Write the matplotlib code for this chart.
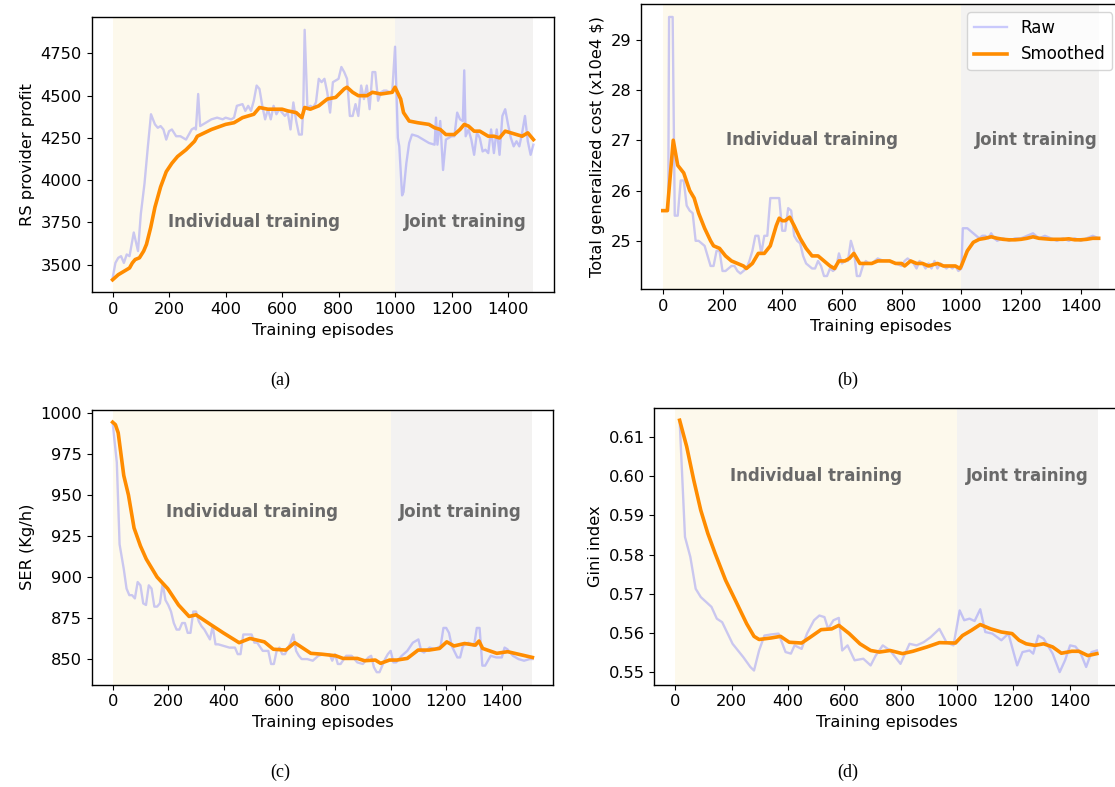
import matplotlib
matplotlib.use('Agg')
from matplotlib import pyplot as plt

# (a) RS provider profit
a_raw_x = [0, 10, 20, 30, 40, 50, 60, 75, 90, 100, 113, 125, 136, 150, 160, 170, 180, 190, 200, 210,
           225, 240, 250, 260, 270, 280, 290, 295, 303, 310, 330, 350, 370, 390, 400, 420, 430, 440,
           460, 470, 480, 490, 500, 510, 520, 530, 540, 550, 560, 570, 580, 590, 600, 610, 620, 630,
           640, 650, 660, 670, 675, 680, 690, 700, 710, 720, 730, 740, 750, 760, 770, 780, 790, 800,
           810, 820, 830, 840, 850, 860, 870, 880, 890, 900, 910, 920, 930, 940, 950, 960, 970, 980,
           990, 1000, 1010, 1015, 1025, 1030, 1040, 1050, 1060, 1080, 1100, 1120, 1140, 1145, 1150,
           1160, 1170, 1180, 1200, 1210, 1220, 1230, 1240, 1245, 1250, 1260, 1270, 1280, 1290, 1300,
           1310, 1320, 1330, 1340, 1350, 1360, 1370, 1380, 1390, 1400, 1410, 1420, 1430, 1440, 1450,
           1460, 1470, 1480, 1490]
a_raw_y = [3420, 3510, 3540, 3550, 3510, 3560, 3550, 3690, 3580, 3800, 3980, 4200, 4390, 4330, 4310,
           4320, 4300, 4240, 4290, 4300, 4260, 4260, 4250, 4240, 4270, 4300, 4310, 4300, 4510, 4320,
           4340, 4360, 4370, 4360, 4370, 4360, 4370, 4440, 4450, 4410, 4440, 4410, 4470, 4560, 4540,
           4440, 4360, 4420, 4360, 4440, 4390, 4420, 4400, 4380, 4400, 4300, 4460, 4350, 4270, 4270,
           4420, 4890, 4420, 4440, 4430, 4460, 4600, 4580, 4600, 4520, 4400, 4580, 4590, 4600, 4670,
           4640, 4600, 4380, 4380, 4450, 4380, 4560, 4480, 4560, 4420, 4640, 4640, 4470, 4520, 4530,
           4530, 4520, 4520, 4790, 4250, 4200, 3910, 3930, 4100, 4220, 4270, 4260, 4240, 4220, 4210,
           4370, 4210, 4350, 4060, 4240, 4260, 4260, 4400, 4360, 4350, 4650, 4260, 4300, 4240, 4150,
           4280, 4250, 4170, 4180, 4160, 4300, 4160, 4300, 4150, 4380, 4420, 4330, 4250, 4200, 4230,
           4200, 4280, 4380, 4230, 4150, 4210]
a_sm_x = [0, 20, 40, 60, 70, 80, 95, 110, 120, 135, 150, 170, 190, 210, 230, 260, 290, 300, 350, 400,
          430, 460, 500, 520, 550, 600, 620, 650, 670, 680, 700, 730, 760, 790, 820, 830, 850, 870,
          900, 920, 950, 990, 1000, 1020, 1030, 1050, 1080, 1120, 1140, 1160, 1180, 1210, 1230, 1245,
          1260, 1280, 1300, 1330, 1350, 1370, 1390, 1410, 1430, 1450, 1470, 1490]
a_sm_y = [3410, 3440, 3460, 3480, 3510, 3530, 3540, 3580, 3620, 3720, 3840, 3960, 4050, 4100, 4140,
          4180, 4230, 4260, 4300, 4330, 4340, 4370, 4390, 4430, 4420, 4420, 4410, 4400, 4370, 4430,
          4420, 4440, 4480, 4490, 4540, 4550, 4520, 4500, 4500, 4520, 4510, 4520, 4550, 4480, 4400,
          4350, 4340, 4330, 4310, 4300, 4270, 4270, 4300, 4330, 4320, 4290, 4290, 4260, 4260, 4250,
          4290, 4280, 4270, 4260, 4280, 4240]

# (b) Total generalized cost
b_raw_x = [0, 10, 18, 21, 33, 40, 50, 60, 70, 80, 90, 100, 110, 120, 130, 140, 150, 160, 170, 180,
           190, 200, 210, 220, 230, 240, 250, 260, 270, 280, 290, 300, 310, 320, 330, 340, 350, 360,
           380, 390, 400, 410, 420, 430, 440, 450, 460, 470, 480, 490, 500, 510, 520, 530, 540, 550,
           560, 570, 580, 590, 600, 610, 620, 630, 640, 650, 660, 670, 680, 690, 700, 720, 740, 760,
           780, 800, 810, 820, 830, 840, 850, 860, 870, 880, 890, 900, 910, 920, 930, 940, 950, 960,
           970, 980, 990, 1000, 1005, 1020, 1030, 1040, 1050, 1060, 1070, 1080, 1090, 1100, 1110,
           1120, 1140, 1160, 1180, 1200, 1220, 1240, 1260, 1280, 1300, 1320, 1340, 1360, 1380, 1400,
           1420, 1440, 1460]
b_raw_y = [25.6, 25.6, 25.6, 29.45, 29.45, 25.5, 25.5, 26.2, 26.2, 25.7, 25.6, 25.55, 25.0, 25.0, 24.95,
           24.9, 24.7, 24.5, 24.5, 24.8, 24.8, 24.4, 24.4, 24.45, 24.5, 24.5, 24.4, 24.35, 24.4, 24.45,
           24.6, 24.8, 25.1, 25.1, 24.75, 25.1, 25.1, 25.85, 25.85, 25.85, 25.2, 25.2, 25.65, 25.6,
           25.1, 25.0, 24.95, 24.7, 24.55, 24.5, 24.45, 24.45, 24.6, 24.5, 24.3, 24.3, 24.45, 24.4,
           24.45, 24.75, 24.55, 24.6, 24.6, 25.0, 24.8, 24.3, 24.3, 24.5, 24.6, 24.55, 24.55, 24.65,
           24.6, 24.6, 24.55, 24.5, 24.6, 24.65, 24.6, 24.55, 24.45, 24.6, 24.55, 24.45, 24.55, 24.45,
           24.6, 24.45, 24.55, 24.5, 24.45, 24.5, 24.45, 24.5, 24.4, 24.45, 25.25, 25.25, 25.2, 25.15,
           25.1, 25.05, 25.1, 25.1, 25.05, 25.15, 25.05, 25.0, 25.05, 25.0, 25.05, 25.05, 25.1, 25.15,
           25.05, 25.1, 25.05, 25.0, 25.05, 25.0, 25.05, 25.0, 25.05, 25.1, 25.05]
b_sm_x = [0, 15, 35, 50, 70, 90, 105, 120, 140, 160, 170, 190, 210, 230, 250, 270, 280, 300, 320,
          340, 360, 380, 390, 400, 410, 425, 440, 460, 480, 500, 520, 540, 560, 575, 590, 610, 625,
          640, 660, 680, 700, 720, 740, 760, 780, 800, 810, 830, 850, 870, 890, 920, 940, 960, 980,
          995, 1000, 1020, 1040, 1060, 1080, 1100, 1120, 1140, 1160, 1180, 1200, 1220, 1240, 1260,
          1280, 1300, 1320, 1340, 1360, 1380, 1400, 1420, 1440, 1460]
b_sm_y = [25.6, 25.6, 27.0, 26.5, 26.35, 26.0, 25.85, 25.55, 25.25, 25.0, 24.9, 24.85, 24.7, 24.6,
          24.55, 24.5, 24.45, 24.55, 24.75, 24.75, 24.9, 25.3, 25.45, 25.4, 25.4, 25.47, 25.3, 25.05,
          24.85, 24.7, 24.7, 24.6, 24.5, 24.45, 24.6, 24.6, 24.65, 24.75, 24.55, 24.55, 24.55, 24.6,
          24.6, 24.6, 24.55, 24.55, 24.5, 24.6, 24.55, 24.55, 24.5, 24.55, 24.5, 24.5, 24.5, 24.45,
          24.5, 24.8, 24.97, 25.03, 25.05, 25.08, 25.05, 25.03, 25.02, 25.02, 25.03, 25.05, 25.08,
          25.05, 25.04, 25.03, 25.03, 25.03, 25.04, 25.02, 25.02, 25.03, 25.05, 25.05]

# (c) SER
c_raw_x = [0, 15, 25, 40, 50, 60, 70, 80, 90, 100, 110, 120, 130, 140, 150, 160, 170, 180, 190, 200,
           210, 220, 230, 240, 250, 260, 270, 280, 290, 300, 310, 320, 330, 340, 350, 360, 370, 380,
           400, 420, 440, 450, 460, 470, 480, 500, 510, 520, 540, 560, 570, 580, 590, 600, 610, 620,
           640, 650, 660, 670, 680, 700, 720, 740, 760, 780, 790, 800, 810, 820, 840, 860, 880, 900,
           920, 930, 940, 950, 960, 980, 990, 1000, 1010, 1020, 1040, 1060, 1080, 1100, 1110, 1120,
           1140, 1160, 1180, 1190, 1200, 1210, 1220, 1240, 1250, 1260, 1280, 1300, 1310, 1320, 1330,
           1340, 1360, 1380, 1400, 1410, 1420, 1440, 1460, 1480, 1500, 1510]
c_raw_y = [994, 970, 920, 905, 893, 889, 889, 887, 897, 895, 884, 883, 895, 893, 882, 882, 884, 896,
           886, 883, 879, 872, 868, 868, 872, 872, 866, 866, 879, 879, 873, 870, 868, 865, 862, 870,
           859, 859, 858, 857, 857, 853, 853, 865, 865, 865, 860, 860, 855, 855, 847, 847, 855, 857,
           853, 853, 860, 865, 855, 852, 850, 850, 849, 852, 853, 853, 849, 853, 847, 847, 852, 852,
           848, 847, 851, 852, 845, 842, 842, 850, 853, 855, 848, 848, 852, 855, 860, 862, 855, 854,
           857, 856, 858, 869, 869, 866, 858, 851, 851, 858, 860, 858, 869, 869, 846, 846, 852, 851,
           851, 857, 856, 852, 850, 849, 850, 850]
c_sm_x = [0, 10, 20, 40, 57, 77, 100, 121, 160, 198, 237, 275, 300, 353, 398, 455, 494, 546, 578, 623,
          655, 713, 752, 803, 829, 880, 906, 945, 964, 996, 1022, 1060, 1099, 1138, 1176, 1202, 1228,
          1266, 1305, 1318, 1331, 1382, 1421, 1459, 1510]
c_sm_y = [994.5, 993, 988, 962, 950, 930, 919, 911, 900, 893, 883, 876, 877, 871, 866, 860, 862.6,
          860.5, 856, 855.5, 860, 853.5, 853, 852, 850.4, 850.4, 849, 849.4, 847.4, 849.4, 849.4,
          850.4, 855.5, 855.5, 856.5, 860.5, 858, 859.5, 858.5, 861, 856.5, 853.5, 854.5, 853, 851]

# (d) Gini index
d_raw_x = [15, 34, 53, 72, 90, 128, 147, 166, 203, 241, 266, 279, 297, 316, 341, 366, 391, 410, 423,
           448, 467, 492, 511, 529, 542, 561, 580, 592, 611, 636, 667, 693, 711, 736, 762, 799, 831,
           856, 881, 906, 937, 962, 987, 1009, 1025, 1044, 1062, 1082, 1100, 1125, 1157, 1182, 1213,
           1232, 1257, 1270, 1288, 1307, 1339, 1364, 1383, 1401, 1420, 1439, 1458, 1477, 1496]
d_raw_y = [0.6142, 0.5845, 0.5794, 0.5713, 0.5692, 0.5667, 0.5637, 0.5628, 0.5573, 0.5539, 0.5514,
           0.5505, 0.5556, 0.5594, 0.5597, 0.5599, 0.5552, 0.5548, 0.5569, 0.5560, 0.5599, 0.5633,
           0.5645, 0.5641, 0.5611, 0.5633, 0.5639, 0.5556, 0.5569, 0.5531, 0.5535, 0.5518, 0.5543,
           0.5569, 0.5556, 0.5522, 0.5573, 0.5569, 0.5577, 0.5590, 0.5611, 0.5577, 0.5569, 0.5658,
           0.5633, 0.5637, 0.5631, 0.5661, 0.5603, 0.5599, 0.5582, 0.5599, 0.5518, 0.5552, 0.5556,
           0.5548, 0.5594, 0.5586, 0.5548, 0.5501, 0.5531, 0.5569, 0.5566, 0.5548, 0.5514, 0.5552,
           0.5556]
d_sm_x = [15, 40, 65, 90, 115, 141, 178, 216, 253, 279, 297, 341, 373, 404, 448, 479, 517, 555, 580,
          617, 655, 693, 724, 762, 806, 843, 893, 937, 994, 1019, 1050, 1082, 1119, 1157, 1195, 1220,
          1245, 1276, 1307, 1339, 1370, 1407, 1432, 1464, 1496]
d_sm_y = [0.6142, 0.6075, 0.5990, 0.5913, 0.5854, 0.5803, 0.5735, 0.5679, 0.5624, 0.5592, 0.5584,
          0.5588, 0.5592, 0.5577, 0.5575, 0.5590, 0.5609, 0.5611, 0.5620, 0.5599, 0.5573, 0.5556,
          0.5552, 0.5556, 0.5548, 0.5554, 0.5565, 0.5576, 0.5575, 0.5594, 0.5607, 0.5622, 0.5611,
          0.5603, 0.5599, 0.5582, 0.5573, 0.5569, 0.5573, 0.5565, 0.5549, 0.5554, 0.5554, 0.5543,
          0.5548]

ylabels = ['RS provider profit', 'Total generalized cost (x10e4 $)', 'SER (Kg/h)', 'Gini index']
captions = ['(a)', '(b)', '(c)', '(d)']
span_ends = [1490, 1460, 1510, 1500]
label_y = [3750, 27.0, 940, 0.600]

plt.rcParams['font.size'] = 11.7
plt.rcParams['axes.linewidth'] = 1.0

fig = plt.figure(figsize=(11.15, 7.87), dpi=100)
# each panel was a separate figure in the source, so the boxes differ a bit
boxes = [[0.0821, 0.6286, 0.4152, 0.3494],
         [0.5749, 0.6328, 0.4300, 0.3621],
         [0.0822, 0.1300, 0.4141, 0.3494],
         [0.5868, 0.1300, 0.4169, 0.3520]]
cap_pos = [(0.251, 0.517), (0.760, 0.517), (0.251, 0.018), (0.760, 0.018)]

series = [(a_raw_x, a_raw_y, a_sm_x, a_sm_y),
          (b_raw_x, b_raw_y, b_sm_x, b_sm_y),
          (c_raw_x, c_raw_y, c_sm_x, c_sm_y),
          (d_raw_x, d_raw_y, d_sm_x, d_sm_y)]

for i, (rx, ry, sx, sy) in enumerate(series):
    ax = fig.add_axes(boxes[i])
    ax.axvspan(0, 1000, color='#fdf9ec', lw=0)
    ax.axvspan(1000, span_ends[i], color='#f3f2f1', lw=0)
    ax.plot(rx, ry, color='blue', alpha=0.2, lw=1.7, label='Raw')
    ax.plot(sx, sy, color='darkorange', lw=2.6, label='Smoothed')
    ax.text(500, label_y[i], 'Individual training', ha='center', va='center',
            fontsize=12, fontweight='bold', color='dimgray')
    ax.text(1250, label_y[i], 'Joint training', ha='center', va='center',
            fontsize=12, fontweight='bold', color='dimgray')
    ax.set_xticks([0, 200, 400, 600, 800, 1000, 1200, 1400])
    ax.set_xlabel('Training episodes')
    ax.set_ylabel(ylabels[i])
    if i == 1:
        ax.legend(loc='upper right', fontsize=12)
    fig.text(cap_pos[i][0], cap_pos[i][1], captions[i], ha='center', va='center',
             family='Liberation Serif', fontsize=13)

fig.savefig('out.png', dpi=100)
